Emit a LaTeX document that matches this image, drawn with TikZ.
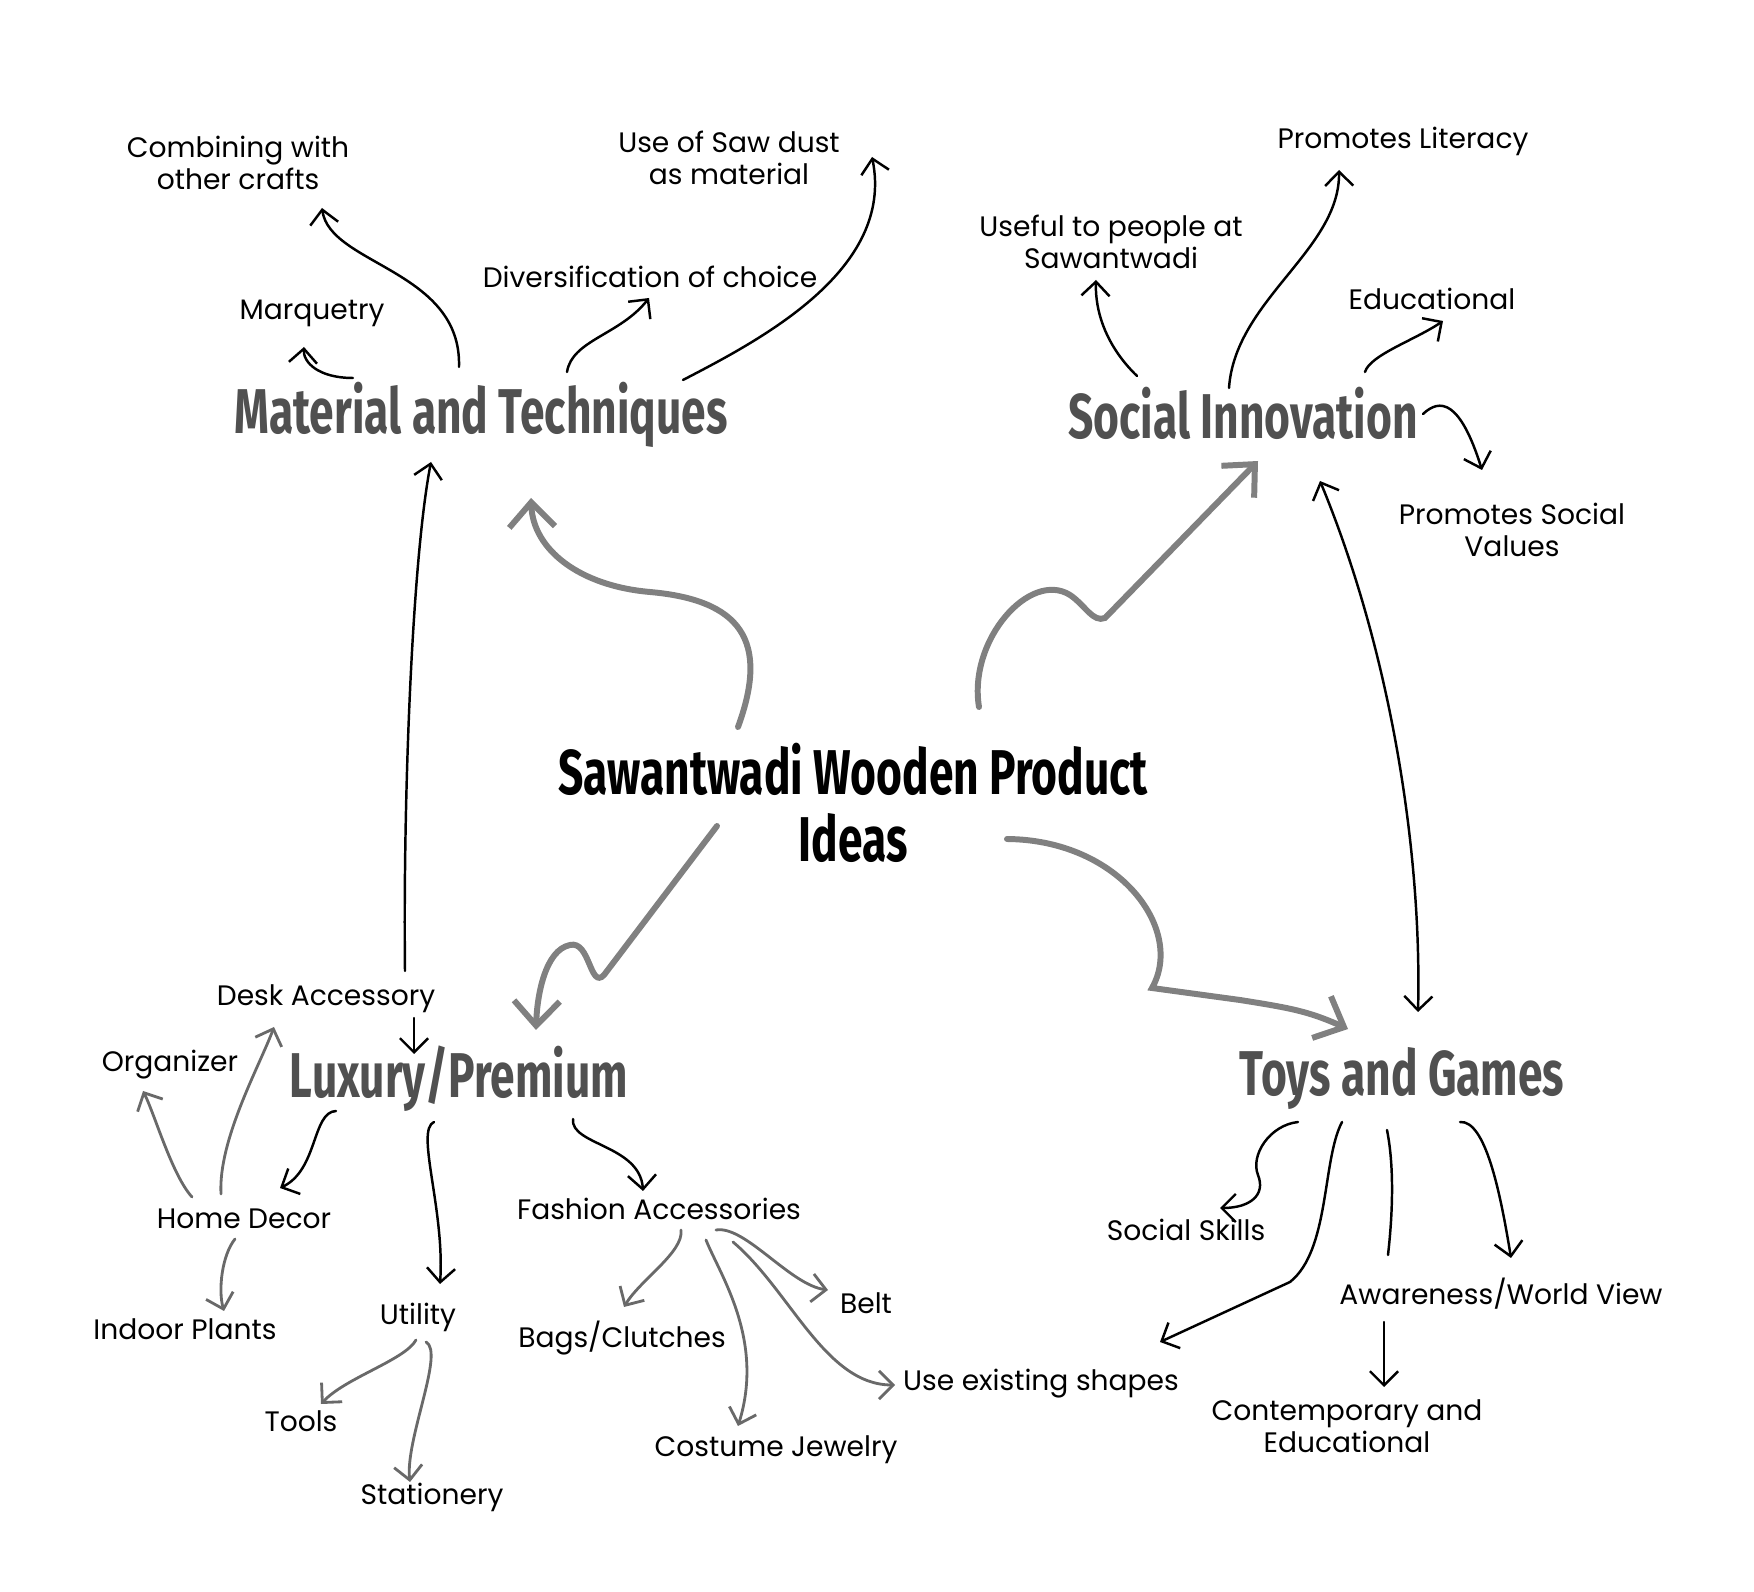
\documentclass[tikz,border=0pt]{standalone}
\usepackage{fontspec}
\setmainfont{Poppins}
\newfontfamily\headfont[FakeStretch=0.70]{Fira Sans}
\usetikzlibrary{arrows.meta}
\definecolor{headgray}{RGB}{80, 80, 80}
\definecolor{linkgray}{RGB}{128, 128, 128}
\definecolor{twiggray}{RGB}{105, 105, 105}

\begin{document}
\begin{tikzpicture}[
    x=0.01cm, y=-0.01cm,
    >={Straight Barb[length=4pt, width=8pt]},
    topic/.style={font=\headfont\bfseries\fontsize{18}{19}\selectfont, text=headgray, inner sep=1pt},
    core/.style={font=\headfont\bfseries\fontsize{18}{19}\selectfont, align=center, inner sep=1pt},
    leaf/.style={font=\fontsize{8}{9}\selectfont, align=center, inner sep=1pt},
    arr/.style={->, line width=0.7pt, line cap=round},
    twig/.style={arr, twiggray, line width=0.8pt},
    link/.style={-{Straight Barb[length=7pt, width=13pt, line width=1.7pt]},
                 line width=1.7pt, linkgray, line cap=round}
]
\useasboundingbox (0,0) rectangle (1754,1592);
% Centre and topics
\node[core] (ctr) at (853,803) {Sawantwadi Wooden Product\\Ideas};
\node[topic] (mat) at (481,415) {Material and Techniques};
\node[topic] (soc) at (1243,413) {Social Innovation};
\node[topic] (lux) at (459,1079) {Luxury/Premium};
\node[topic] (toy) at (1402,1079) {Toys and Games};
% Material and Techniques
\node[leaf] (comb) at (238,163) {Combining with\\other crafts};
\node[leaf] (saw) at (729,158) {Use of Saw dust\\as material};
\node[leaf] (marq) at (312,313) {Marquetry};
\node[leaf] (div) at (650,277) {Diversification of choice};
% Social Innovation
\node[leaf] (use) at (1111,242) {Useful to people at\\Sawantwadi};
\node[leaf] (lit) at (1403,141) {Promotes Literacy};
\node[leaf] (edu) at (1432,299) {Educational};
\node[leaf] (val) at (1512,530) {Promotes Social\\Values};
% Luxury/Premium
\node[leaf] (desk) at (326,999) {Desk Accessory};
\node[leaf] (org) at (170,1065) {Organizer};
\node[leaf] (home) at (244,1219) {Home Decor};
\node[leaf] (plant) at (185,1329) {Indoor Plants};
\node[leaf] (util) at (418,1317) {Utility};
\node[leaf] (tools) at (301,1421) {Tools};
\node[leaf] (stat) at (432,1497) {Stationery};
\node[leaf] (fash) at (659,1209) {Fashion Accessories};
\node[leaf] (bags) at (622,1338) {Bags/Clutches};
\node[leaf] (belt) at (866,1303) {Belt};
\node[leaf] (shape) at (1041,1384) {Use existing shapes};
\node[leaf] (jew) at (776,1450) {Costume Jewelry};
% Toys and Games
\node[leaf] (skill) at (1186,1230) {Social Skills};
\node[leaf] (aware) at (1501,1294) {Awareness/World View};
\node[leaf] (cont) at (1347,1426) {Contemporary and\\Educational};

% Centre links
\draw[link] ([shift={(-115,-76)}]ctr.center) .. controls +(32,-87) and +(90,8) .. ++(-88,-135)
    .. controls +(-70,-6) and +(2,52) .. ([shift={(50,83)}]mat.center);
\draw[link] ([shift={(126,-96)}]ctr.center) .. controls +(-11,-67) and +(-40,-25) .. ++(91,-112)
    .. controls +(15,10) and +(-12,5) .. ++(35,23) -- ([shift={(15,48)}]soc.center);
\draw[link] ([shift={(-136,23)}]ctr.center) -- ++(-113,149) .. controls +(-14,15) and +(20,-5) .. ++(-34,-30)
    .. controls +(-25,5) and +(1,-34) .. ([shift={(77,-49)}]lux.center);
\draw[link] ([shift={(154,36)}]ctr.center) .. controls +(113,1) and +(33,-58) .. ++(145,149) -- ++(88,12)
    .. controls +(50,8) and +(-40,-18) .. ([shift={(-54,-50)}]toy.center);
% Topic to topic
\draw[arr] ([shift={(79,-28)}]desk.center) .. controls +(-2,-170) and +(-19,98) .. ([shift={(-50,47)}]mat.center);
\draw[arr, <->] ([shift={(77,68)}]soc.center) .. controls +(70,169) and +(4,-162) .. ([shift={(16,-67)}]toy.center);
\draw[arr] ([shift={(88,19)}]desk.center) -- ([shift={(-45,-25)}]lux.center);
% Material and Techniques arrows
\draw[arr] ([shift={(-22,-48)}]mat.center) .. controls +(3,-97) and +(8,57) .. ([shift={(84,45)}]comb.center);
\draw[arr] ([shift={(-128,-37)}]mat.center) .. controls +(-35,0) and +(-1,15) .. ([shift={(-8,34)}]marq.center);
\draw[arr] ([shift={(86,-43)}]mat.center) .. controls +(5,-32) and +(-29,37) .. ([shift={(-1,21)}]div.center);
\draw[arr] ([shift={(202,-35)}]mat.center) .. controls +(77,-40) and +(23,113) .. ([shift={(143,-1)}]saw.center);
% Social Innovation arrows
\draw[arr] ([shift={(-106,-37)}]soc.center) .. controls +(-32,-31) and +(-1,30) .. ([shift={(-15,38)}]use.center);
\draw[arr] ([shift={(-14,-25)}]soc.center) .. controls +(6,-88) and +(1,80) .. ([shift={(-64,29)}]lit.center);
\draw[arr] ([shift={(122,-41)}]soc.center) .. controls +(5,-17) and +(-28,19) .. ([shift={(11,22)}]edu.center);
\draw[arr] ([shift={(180,1)}]soc.center) .. controls +(17,-16) and +(-22,-70) .. ([shift={(-30,-60)}]val.center);
% Luxury/Premium arrows
\draw[arr] ([shift={(-123,32)}]lux.center) .. controls +(-24,1) and +(38,-18) .. ([shift={(36,-31)}]home.center);
\draw[arr] ([shift={(-25,43)}]lux.center) .. controls +(-19,8) and +(5,-74) .. ([shift={(22,-33)}]util.center);
\draw[arr] ([shift={(114,40)}]lux.center) .. controls +(-3,26) and +(-3,-46) .. ([shift={(-16,-18)}]fash.center);
\draw[twig] ([shift={(-52,-22)}]home.center) .. controls +(-20,-22) and +(12,24) .. ([shift={(-27,26)}]org.center);
\draw[twig] ([shift={(-23,-25)}]home.center) .. controls +(-3,-54) and +(-14,38) .. ([shift={(-52,28)}]desk.center);
\draw[twig] ([shift={(-9,20)}]home.center) .. controls +(-13,16) and +(-6,-21) .. ([shift={(39,-18)}]plant.center);
\draw[twig] ([shift={(-2,23)}]util.center) .. controls +(-11,20) and +(24,-26) .. ([shift={(20,-17)}]tools.center);
\draw[twig] ([shift={(8,25)}]util.center) .. controls +(19,10) and +(-5,-42) .. ([shift={(-22,-15)}]stat.center);
\draw[twig] ([shift={(22,21)}]fash.center) .. controls +(3,22) and +(16,-27) .. ([shift={(2,-31)}]bags.center);
\draw[twig] ([shift={(47,31)}]fash.center) .. controls +(14,35) and +(27,-86) .. ([shift={(-38,-24)}]jew.center);
\draw[twig] ([shift={(57,21)}]fash.center) .. controls +(29,-5) and +(-38,-5) .. ([shift={(-38,-13)}]belt.center);
\draw[twig] ([shift={(74,33)}]fash.center) .. controls +(57,48) and +(-70,0) .. ([shift={(-146,1)}]shape.center);
% Toys and Games arrows
\draw[arr] ([shift={(-104,43)}]toy.center) .. controls +(-28,3) and +(-8,-20) .. ++(-40,53)
    .. controls +(8,20) and +(30,0) .. ([shift={(34,-22)}]skill.center);
\draw[arr] ([shift={(-60,43)}]toy.center) .. controls +(-20,38) and +(40,-32) .. ++(-52,160)
    -- ([shift={(119,-42)}]shape.center);
\draw[line width=0.7pt, line cap=round] ([shift={(-15,51)}]toy.center) .. controls +(8,40) and +(4,-35) .. ([shift={(-113,-39)}]aware.center);
\draw[arr] ([shift={(58,43)}]toy.center) .. controls +(25,-2) and +(-11,-68) .. ([shift={(10,-36)}]aware.center);
\draw[arr] ([shift={(-117,28)}]aware.center) -- ([shift={(37,-39)}]cont.center);
\end{tikzpicture}
\end{document}
